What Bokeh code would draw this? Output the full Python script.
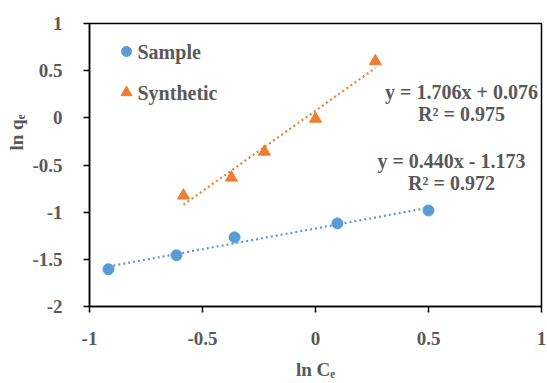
from bokeh.plotting import figure
from bokeh.models import Range1d, FixedTicker, Label, Title
from bokeh.embed import file_html
from bokeh.resources import INLINE

# ---- data ----
sample_x = [-0.916, -0.615, -0.358, 0.097, 0.500]
sample_y = [-1.605, -1.457, -1.267, -1.119, -0.982]
synthetic_x = [-0.584, -0.372, -0.226, 0.000, 0.265]
synthetic_y = [-0.824, -0.634, -0.359, -0.010, 0.600]

# trendline coefficients (slope, intercept) and labels as printed
sample_fit = (0.440, -1.173)
synthetic_fit = (1.706, 0.076)
sample_eq = ["y = 0.440x - 1.173", "R² = 0.972"]
synthetic_eq = ["y = 1.706x + 0.076", "R² = 0.975"]

x_ticks = [-1, -0.5, 0, 0.5, 1]
x_tick_labels = ["-1", "-0.5", "0", "0.5", "1"]
y_ticks = [-2, -1.5, -1, -0.5, 0, 0.5, 1]
y_tick_labels = ["-2", "-1.5", "-1", "-0.5", "0", "0.5", "1"]

series_names = ["Sample", "Synthetic"]
x_title = "ln Cₑ"
y_title = "ln qₑ"

BLUE = "#5B9BD5"
ORANGE = "#ED7D31"
GRAY = "#595959"
FONT = "Liberation Serif"

W, H = 547, 383
FL, FR, FT, FB = 89, 6, 23, 77
FW, FH = W - FL - FR, H - FT - FB


def dx(cx):
    return -1 + (cx - FL) / FW * 2


def dy(cy):
    return 1 - (cy - FT) / FH * 3


p = figure(width=W, height=H, output_backend="svg", toolbar_location=None,
           x_range=Range1d(-1, 1), y_range=Range1d(-2, 1),
           min_border_left=FL, min_border_right=FR, min_border_top=FT,
           min_border_bottom=FB)
p.xgrid.visible = False
p.ygrid.visible = False
p.outline_line_color = "black"
p.outline_line_width = 1.5
p.background_fill_color = "white"
p.border_fill_color = "white"

for ax, ticks, labels in ((p.xaxis[0], x_ticks, x_tick_labels),
                          (p.yaxis[0], y_ticks, y_tick_labels)):
    ax.ticker = FixedTicker(ticks=ticks)
    ax.major_label_overrides = {t: l for t, l in zip(ticks, labels)}
    ax.axis_line_color = "black"
    ax.axis_line_width = 1.5
    ax.major_tick_line_color = "black"
    ax.major_tick_line_width = 1.5
    ax.major_tick_out = 6
    ax.major_tick_in = 0
    ax.minor_tick_line_color = None
    ax.major_label_text_font = FONT
    ax.major_label_text_font_style = "bold"
    ax.major_label_text_font_size = "19px"
    ax.major_label_text_color = GRAY
p.xaxis.major_label_standoff = 19
p.yaxis.major_label_standoff = 21

p.xaxis.axis_label = x_title
p.xaxis.axis_label_text_font = FONT
p.xaxis.axis_label_text_font_style = "bold"
p.xaxis.axis_label_text_font_size = "19px"
p.xaxis.axis_label_text_color = GRAY
p.xaxis.axis_label_standoff = 11

p.add_layout(Title(text=y_title, align="left", offset=156, text_font=FONT,
                   text_font_style="bold", text_font_size="19px",
                   text_color=GRAY, standoff=6), "left")

# trendlines
for xs, (m, b), col in ((sample_x, sample_fit, BLUE), (synthetic_x, synthetic_fit, ORANGE)):
    x0, x1 = min(xs), max(xs)
    p.line([x0, x1], [m * x0 + b, m * x1 + b], line_color=col, line_width=2.2,
           line_dash="2 3")

p.scatter(sample_x, sample_y, marker="circle", size=11, color=BLUE)
p.scatter(synthetic_x, synthetic_y, marker="triangle", size=12, color=ORANGE)

# legend (manual, to match layout)
leg_x = dx(126)
leg_y = [dy(51), dy(92)]
p.scatter([leg_x], [leg_y[0]], marker="circle", size=10, color=BLUE)
p.scatter([leg_x], [leg_y[1]], marker="triangle", size=11, color=ORANGE)
for name, yy in zip(series_names, leg_y):
    p.add_layout(Label(x=dx(137), y=yy, text=name, text_font=FONT,
                       text_font_style="bold", text_font_size="20px",
                       text_color=GRAY, text_align="left", text_baseline="middle"))


def eq_block(lines, cx, cy):
    for i, t in enumerate(lines):
        p.add_layout(Label(x=dx(cx), y=dy(cy + i * 22), text=t, text_font=FONT,
                           text_font_style="bold", text_font_size="20px",
                           text_color=GRAY, text_align="center",
                           text_baseline="middle"))


eq_block(synthetic_eq, 461, 91)
eq_block(sample_eq, 451, 160)

open("out.html", "w").write(file_html(p, INLINE))
